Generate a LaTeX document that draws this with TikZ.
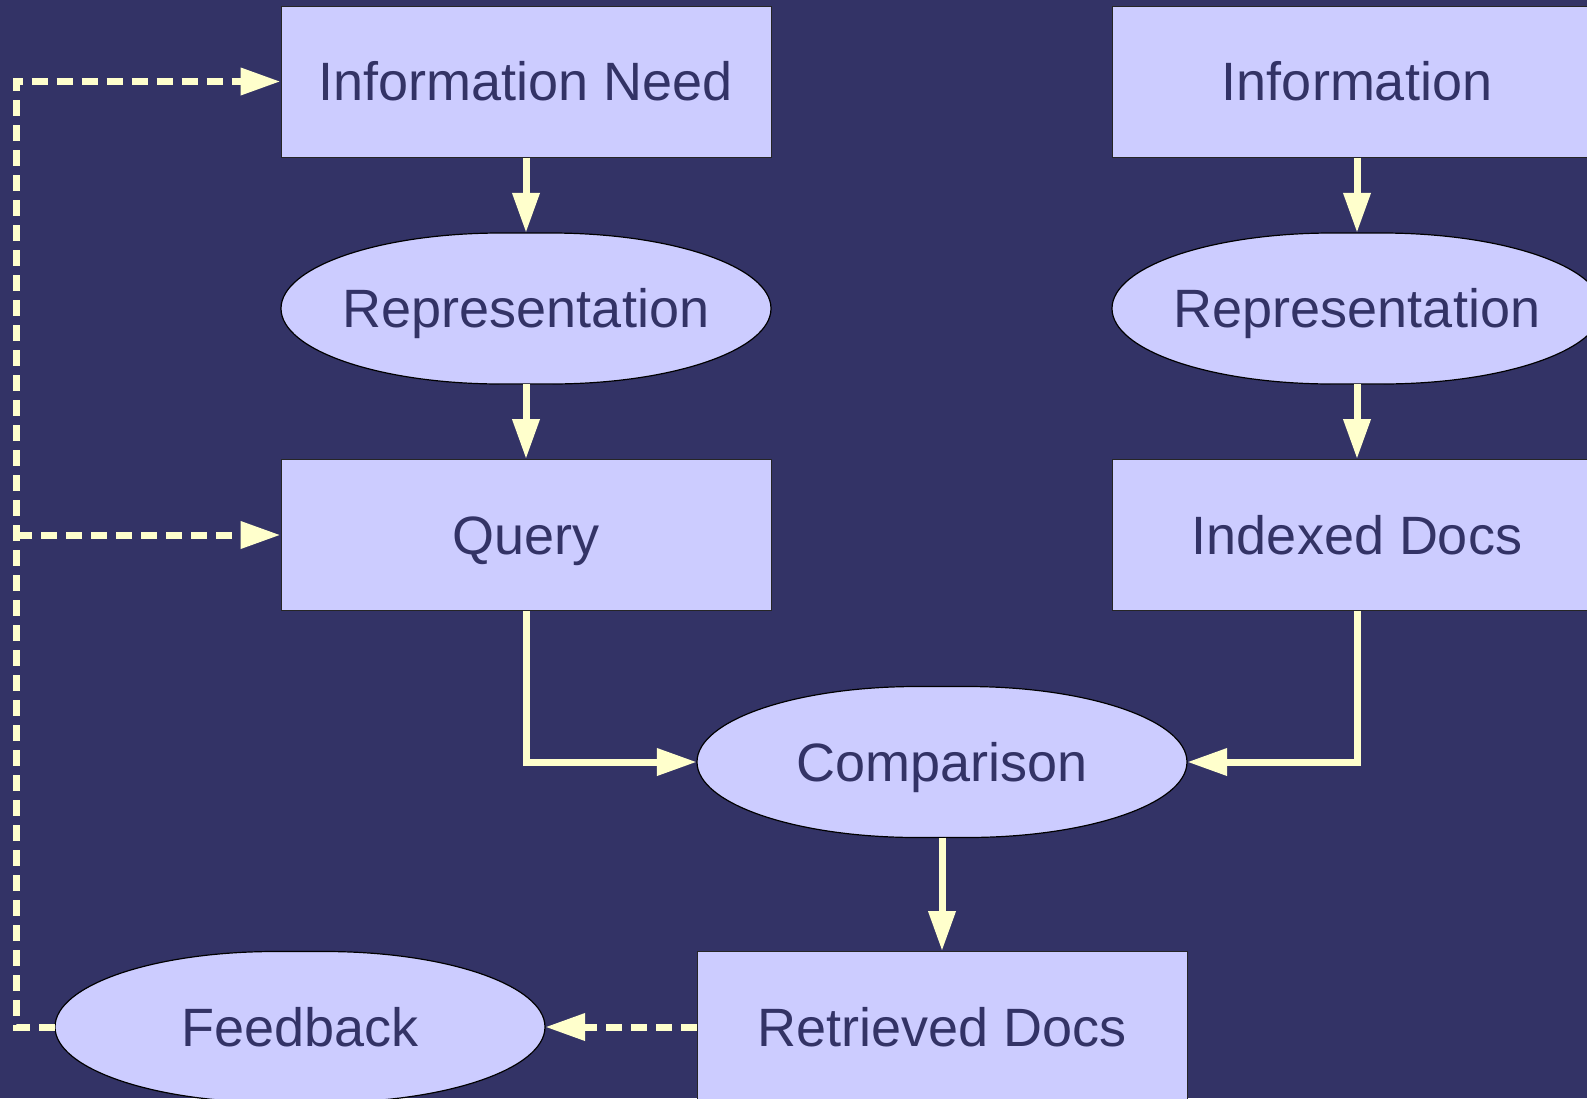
\documentclass[tikz,border=0pt]{standalone}
\usepackage{fontspec}
\setmainfont{Liberation Sans}
\usetikzlibrary{arrows.meta,shapes.geometric}
\definecolor{bg}{HTML}{333366}
\definecolor{boxfill}{HTML}{CCCCFF}
\definecolor{ink}{HTML}{333366}
\definecolor{flow}{HTML}{FFFFCC}

% slightly flattened oval centred at (#1,#2): short straight top/bottom, elliptic ends
\newcommand\ovalat[2]{(#1-25,#2-75.5) -- (#1+25,#2-75.5)
  arc[start angle=-90,end angle=90,x radius=220,y radius=75.5]
  -- (#1-25,#2+75.5)
  arc[start angle=90,end angle=270,x radius=220,y radius=75.5] -- cycle}

\begin{document}
\begin{tikzpicture}[x=1pt,y=-1pt,
  txt/.style={font=\fontsize{54}{60}\selectfont, text=ink,
    text height=38.7pt, text depth=0pt, inner sep=0pt},
  boxnode/.style={txt, rectangle, draw=black!85, line width=1pt,
    fill=boxfill, minimum width=490pt, minimum height=151pt},
  ovalnode/.style={txt, ellipse, minimum width=490pt, minimum height=151pt},
  ovalshape/.style={fill=boxfill, draw=black, line width=1.2pt},
  flowline/.style={draw=flow, line width=7pt,
    -{Triangle[length=40pt,width=26pt]}},
  fbline/.style={flowline, dash pattern=on 16pt off 9pt}]

\useasboundingbox (0,0) rectangle (1587,1098);
\fill[bg] (0,0) rectangle (1587,1098);
\clip (0,0) rectangle (1587,1098);

% oval backgrounds
\path[ovalshape] \ovalat{526}{308.5};
\path[ovalshape] \ovalat{1357}{308.5};
\path[ovalshape] \ovalat{942}{762};
\path[ovalshape] \ovalat{300}{1027};

% query side
\node[boxnode]  (need)      at (526,81.5)  {Information Need};
\node[ovalnode] (repq)      at (526,308.5) {Representation};
\node[boxnode]  (query)     at (526,535)   {Query};

% document side
\node[boxnode]  (info)      at (1357,81.5)  {Information};
\node[ovalnode] (repd)      at (1357,308.5) {Representation};
\node[boxnode]  (indexed)   at (1357,535)   {Indexed Docs};

% matching and results
\node[ovalnode] (compare)   at (942,762)  {Comparison};
\node[boxnode]  (retrieved) at (942,1027) {Retrieved Docs};
\node[ovalnode] (feedback)  at (300,1027) {Feedback};

\coordinate (fbturn) at (16,1027);
\coordinate (qturn)  at (16,535);

% main flow
\draw[flowline] (need.south) -- (repq.north);
\draw[flowline] (repq.south) -- (query.north);
\draw[flowline] (info.south) -- (repd.north);
\draw[flowline] (repd.south) -- (indexed.north);
\draw[flowline] (query.south) |- (compare.west);
\draw[flowline] (indexed.south) |- (compare.east);
\draw[flowline] (compare.south) -- (retrieved.north);

% feedback loop
\draw[fbline] (retrieved.west) -- (feedback.east);
\draw[fbline] (feedback.west) -- (fbturn) |- (need.west);
\draw[fbline] (qturn) -- (query.west);
\end{tikzpicture}
\end{document}
